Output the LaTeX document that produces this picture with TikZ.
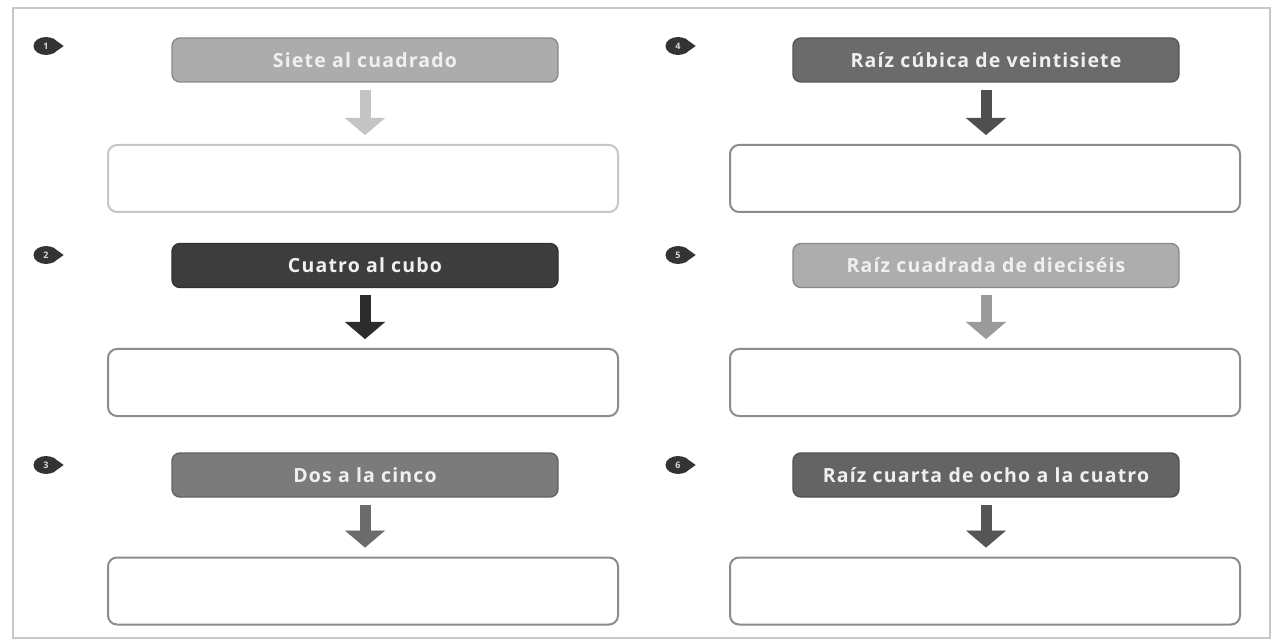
\documentclass[tikz,border=0pt]{standalone}
\usepackage{fontspec}
\setmainfont{Open Sans}
\usetikzlibrary{arrows.meta,shapes.geometric,calc}
\definecolor{framec}{HTML}{C8C8C8}
\definecolor{hA}{HTML}{ACACAC}
\definecolor{hB}{HTML}{3D3D3D}
\definecolor{hC}{HTML}{7B7B7B}
\definecolor{hD}{HTML}{6B6B6B}
\definecolor{hE}{HTML}{ADADAD}
\definecolor{hF}{HTML}{646464}
\definecolor{aA}{HTML}{C4C4C4}
\definecolor{aB}{HTML}{2C2C2C}
\definecolor{aC}{HTML}{6B6B6B}
\definecolor{aD}{HTML}{4F4F4F}
\definecolor{aE}{HTML}{9A9A9A}
\definecolor{aF}{HTML}{555555}
\definecolor{bA}{HTML}{C6C6C6}
\definecolor{bX}{HTML}{8C8C8C}
\definecolor{mk}{HTML}{333333}
\begin{document}
\begin{tikzpicture}[x=1pt,y=-1pt,
  header/.style={rounded corners=8pt, minimum width=386pt, minimum height=44pt,
    draw=#1!80!black, line width=1.4pt, fill=#1, text=white!94!black, inner sep=0pt,
    font=\addfontfeatures{LetterSpace=6}\bfseries\fontsize{19.5}{22}\selectfont},
  answer/.style={draw=#1, line width=2pt, rounded corners=9pt,
    minimum width=510pt, minimum height=67pt, fill=white, inner sep=0pt},
  flow/.style={draw=#1, line width=11pt,
    -{Triangle[width=40pt,length=17pt,line width=0.1pt]},
    shorten <=7pt, shorten >=9pt},
  marker/.style={ellipse, fill=mk, minimum width=25pt, minimum height=18pt,
    inner sep=0pt, text=white!85!black, font=\bfseries\fontsize{9}{9}\selectfont}
]
\useasboundingbox (0,0) rectangle (1275,644);
\fill[white] (0,0) rectangle (1275,644);
\draw[framec, line width=1.5pt] (13,8) rectangle (1270,638);

% left column
\node[header=hA] (h1) at (365,60) {Siete al cuadrado};
\node[answer=bA] (b1) at (363,178.5) {};
\node[header=hB] (h2) at (365,265.5) {Cuatro al cubo};
\node[answer=bX] (b2) at (363,382.5) {};
\node[header=hC] (h3) at (365,475) {Dos a la cinco};
\node[answer=bX] (b3) at (363,591) {};

% right column
\node[header=hD] (h4) at (986,60) {Raíz cúbica de veintisiete};
\node[answer=bX] (b4) at (985,178.5) {};
\node[header=hE] (h5) at (986,265.5) {Raíz cuadrada de dieciséis};
\node[answer=bX] (b5) at (985,382.5) {};
\node[header=hF] (h6) at (986,475) {Raíz cuarta de ocho a la cuatro};
\node[answer=bX] (b6) at (985,591) {};

% arrows
\draw[flow=aA] (h1) -- (b1.north -| h1);
\draw[flow=aB] (h2) -- (b2.north -| h2);
\draw[flow=aC] (h3) -- (b3.north -| h3);
\draw[flow=aD] (h4) -- (b4.north -| h4);
\draw[flow=aE] (h5) -- (b5.north -| h5);
\draw[flow=aF] (h6) -- (b6.north -| h6);

% markers
\foreach \n/\px/\py in {1/46/46, 2/46/255, 3/46/465, 4/678/46, 5/678/255, 6/678/465}{
  \node[marker] (m\n) at (\px,\py) {\n};
  \fill[mk] ($(m\n.east)+(5,0)$) -- (m\n.50) -- (m\n.-50) -- cycle;
}
\end{tikzpicture}
\end{document}
